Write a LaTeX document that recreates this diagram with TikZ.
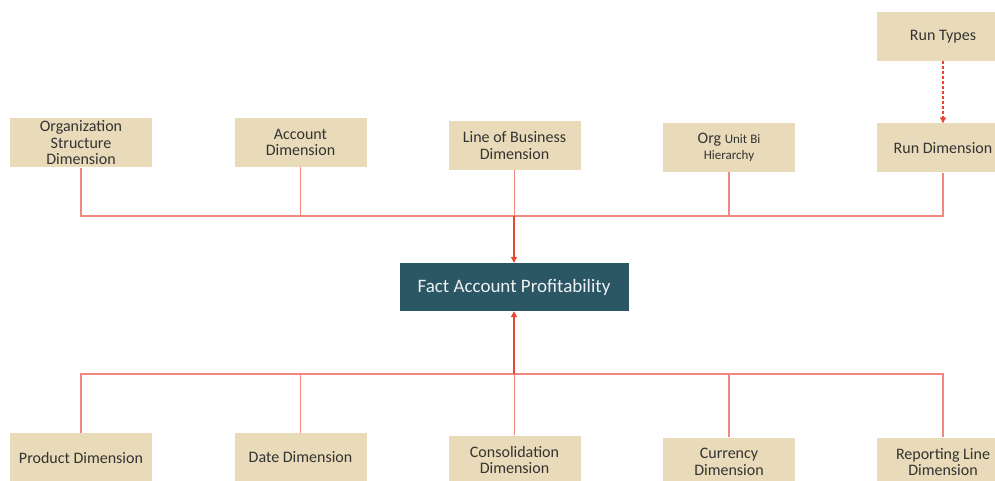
\documentclass[tikz,border=0pt]{standalone}
\usepackage{fontspec}
\setmainfont{Carlito}
\usetikzlibrary{arrows.meta}
\definecolor{boxtan}{HTML}{E9DBB9}
\definecolor{factteal}{HTML}{2B5664}
\definecolor{linkred}{HTML}{F08880}
\definecolor{arrowred}{HTML}{E8472F}
\definecolor{txt}{HTML}{333333}
\tikzset{
  dimbox/.style={fill=boxtan, draw=none, minimum width=132pt, minimum height=49pt,
    align=center, text=txt, font=\fontsize{16}{16.5}\selectfont, inner sep=1pt},
  smalltxt/.style={font=\fontsize{13}{15}\selectfont},
  factbox/.style={fill=factteal, draw=none, minimum width=229pt, minimum height=48pt,
    text=white!92!factteal, font=\fontsize{19}{21}\selectfont},
  link/.style={draw=linkred, line width=1.2pt},
  feed/.style={draw=arrowred, line width=1.2pt, -{Triangle[length=6pt,width=6pt]}},
  dashfeed/.style={draw=arrowred, line width=1.1pt, dash pattern=on 3pt off 2pt,
    -{Triangle[length=6pt,width=6pt]}}
}
\begin{document}
\begin{tikzpicture}[x=1pt,y=-1pt]
\useasboundingbox (0,0) rectangle (995,481);
\clip (0,0) rectangle (995,481);
\fill[white] (0,0) rectangle (995,481);

% upper dimensions
\node[dimbox, minimum width=142pt] (org) at (81,143) {Organization\\Structure\\Dimension};
\node[dimbox] (acct) at (300.5,142.5) {Account\\Dimension};
\node[dimbox] (lob) at (514.5,145.5) {Line of Business\\Dimension};
\node[dimbox] (orgunit) at (729,147.5) {Org {\fontsize{13}{15}\selectfont Unit Bi}\\{\fontsize{13}{15}\selectfont Hierarchy}};
\node[dimbox] (run) at (943,148) {Run Dimension};
\node[dimbox] (runtypes) at (943,36.5) {Run Types};

% fact table
\node[factbox] (fact) at (514,287) {Fact Account Profitability};

% lower dimensions
\node[dimbox, minimum width=142pt] (prod) at (81,457.5) {Product Dimension};
\node[dimbox] (date) at (300.5,457.5) {Date Dimension};
\node[dimbox] (cons) at (514.5,460) {Consolidation\\Dimension};
\node[dimbox] (curr) at (729,462) {Currency\\Dimension};
\node[dimbox] (repl) at (943,462) {Reporting Line\\Dimension};

% upper bus
\coordinate (tbus) at (514,216);
\draw[link] (org.south) |- (tbus);
\draw[link] (acct.south) -- (acct.south |- tbus);
\draw[link] (lob.south) |- (tbus);
\draw[link] (orgunit.south) |- (tbus);
\draw[link] (run.south) |- (tbus);
\draw[feed] (tbus) -- (fact.north);

% lower bus
\coordinate (bbus) at (514,374);
\draw[link] (prod.north) |- (bbus);
\draw[link] (date.north) -- (date.north |- bbus);
\draw[link] (cons.north) |- (bbus);
\draw[link] (curr.north) |- (bbus);
\draw[link] (repl.north) |- (bbus);
\draw[feed] (bbus) -- (fact.south);

% run types feed
\draw[dashfeed] (runtypes.south) -- (run.north);
\end{tikzpicture}
\end{document}
